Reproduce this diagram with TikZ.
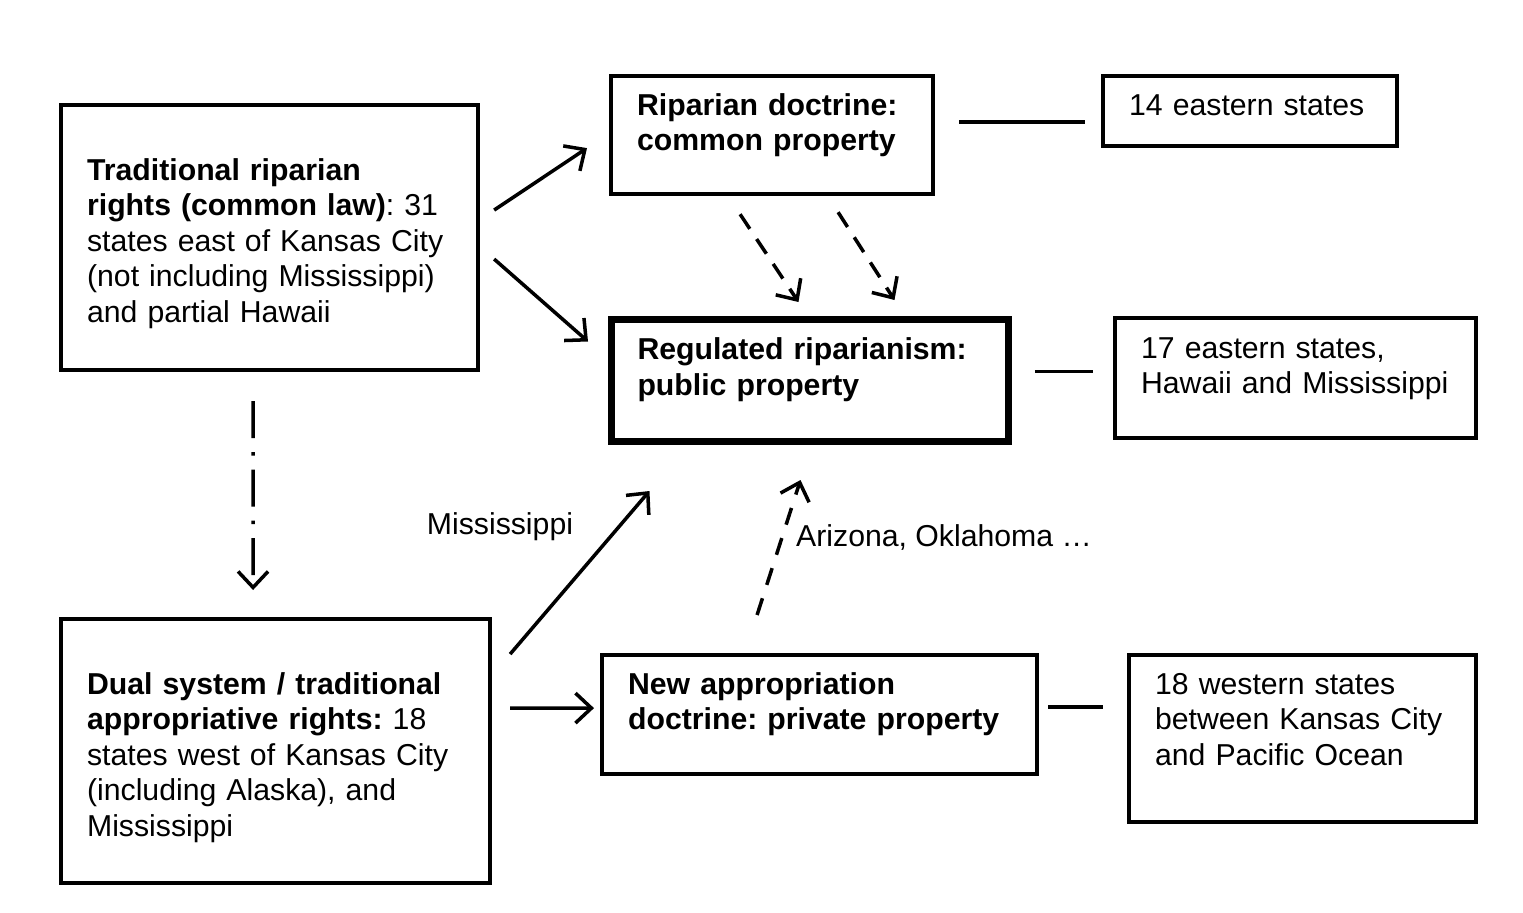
\documentclass[tikz,border=0pt]{standalone}
\usepackage{fontspec}
\setmainfont{Liberation Sans}
\usetikzlibrary{arrows.meta,calc}

\tikzset{
  box/.style={draw, line width=2.4pt, anchor=north west, align=left, inner xsep=0.52cm, inner ysep=0pt,
    text height=0.78cm, execute at begin node={\frenchspacing\hyphenpenalty=10000}},
  conn/.style={line width=2pt},
  arr/.style={conn, -{Straight Barb[length=3.2mm,width=6mm]}},
}

\begin{document}
\begin{tikzpicture}[x=0.02cm, y=-0.02cm, font=\fontsize{17.2}{20.2}\selectfont]
    \useasboundingbox (0,0) rectangle (1523,912);
    % Boxes, left column
    \node[box, text width=7.30cm, text height=1.50cm, text depth=3.80cm] (trad) at (59,103)
        {\textbf{Traditional riparian}\\ \textbf{rights (common law)}: 31\\ states east of Kansas City\\ (not including Mississippi)\\ and partial Hawaii};
    \node[box, text width=7.54cm, text height=1.50cm, text depth=3.78cm] (dual) at (59,617)
        {\textbf{Dual system / traditional}\\ \textbf{appropriative rights:} 18\\ states west of Kansas City\\ (including Alaska), and\\ Mississippi};
    % Boxes, middle column
    \node[box, text width=5.40cm, text depth=1.58cm] (ripdoc) at (609,74)
        {\textbf{Riparian doctrine:}\\ \textbf{common property}};
    \node[box, line width=4pt, text width=6.90cm, text height=0.80cm, text depth=1.64cm] (regul) at (608,316)
        {\textbf{Regulated riparianism:}\\ \textbf{public property}};
    \node[box, text width=7.66cm, text depth=1.60cm] (newapp) at (600,653)
        {\textbf{New appropriation}\\ \textbf{doctrine: private property}};
    % Boxes, right column
    \node[box, text width=4.84cm, text depth=0.62cm] (east14) at (1101,74) {14 eastern states};
    \node[box, text width=6.18cm, text height=0.80cm, text depth=1.60cm] (east17) at (1113,316)
        {17 eastern states,\\ Hawaii and Mississippi};
    \node[box, text width=5.90cm, text depth=2.56cm] (west18) at (1127,653)
        {18 western states\\ between Kansas City\\ and Pacific Ocean};
    % Labels
    \node (lblmiss) at (500,527) {Mississippi};
    \node[anchor=west] (lblariz) at (790,537) {Arizona, Oklahoma \dots};
    % Plain links to the state lists
    \coordinate (ripend) at ($(ripdoc.east)+(24,-13)$);
    \coordinate (regend) at ($(regul.east)+(23,-9)$);
    \coordinate (newend) at ($(newapp.east)+(9,-7.5)$);
    \draw[conn, shorten >=0.32cm] (ripend) -- (ripend -| east14.west);
    \draw[conn, shorten >=0.40cm] (regend) -- (regend -| east17.west);
    \draw[conn, shorten >=0.48cm] (newend) -- (newend -| west18.west);
    % Solid arrows
    \draw[arr] ($(trad.east)+(14,-27.5)$) -- ($(ripdoc.west)+(-22,13)$);
    \draw[arr] ($(trad.east)+(14,21.5)$) -- ($(regul.west)+(-20,-39)$);
    \draw[arr] ($(dual.east)+(18,-97)$) -- ($(regul.south)+(-160.5,46)$);
    \draw[arr] ($(dual.east)+(18,-43)$) -- ($(newapp.west)+(-6,-6.5)$);
    % Dashed arrows
    \draw[arr, dash pattern=on 10pt off 7pt] ($(ripdoc.south)+(-32,18)$) -- ($(regul.north)+(-11.5,-14)$);
    \draw[arr, dash pattern=on 10pt off 7pt] ($(ripdoc.south)+(66,16)$) -- ($(regul.north)+(84.5,-16)$);
    \draw[arr, dash pattern=on 10pt off 8pt] ($(newapp.north)+(-62.5,-38)$) -- ($(regul.south)+(-9.5,35)$);
    % Dash-dot arrow
    \draw[arr, dash pattern=on 21pt off 8pt on 2pt off 8pt] ($(trad.south)+(-16.5,29)$) -- ($(dual.north)+(-22.5,-27)$);
\end{tikzpicture}
\end{document}
